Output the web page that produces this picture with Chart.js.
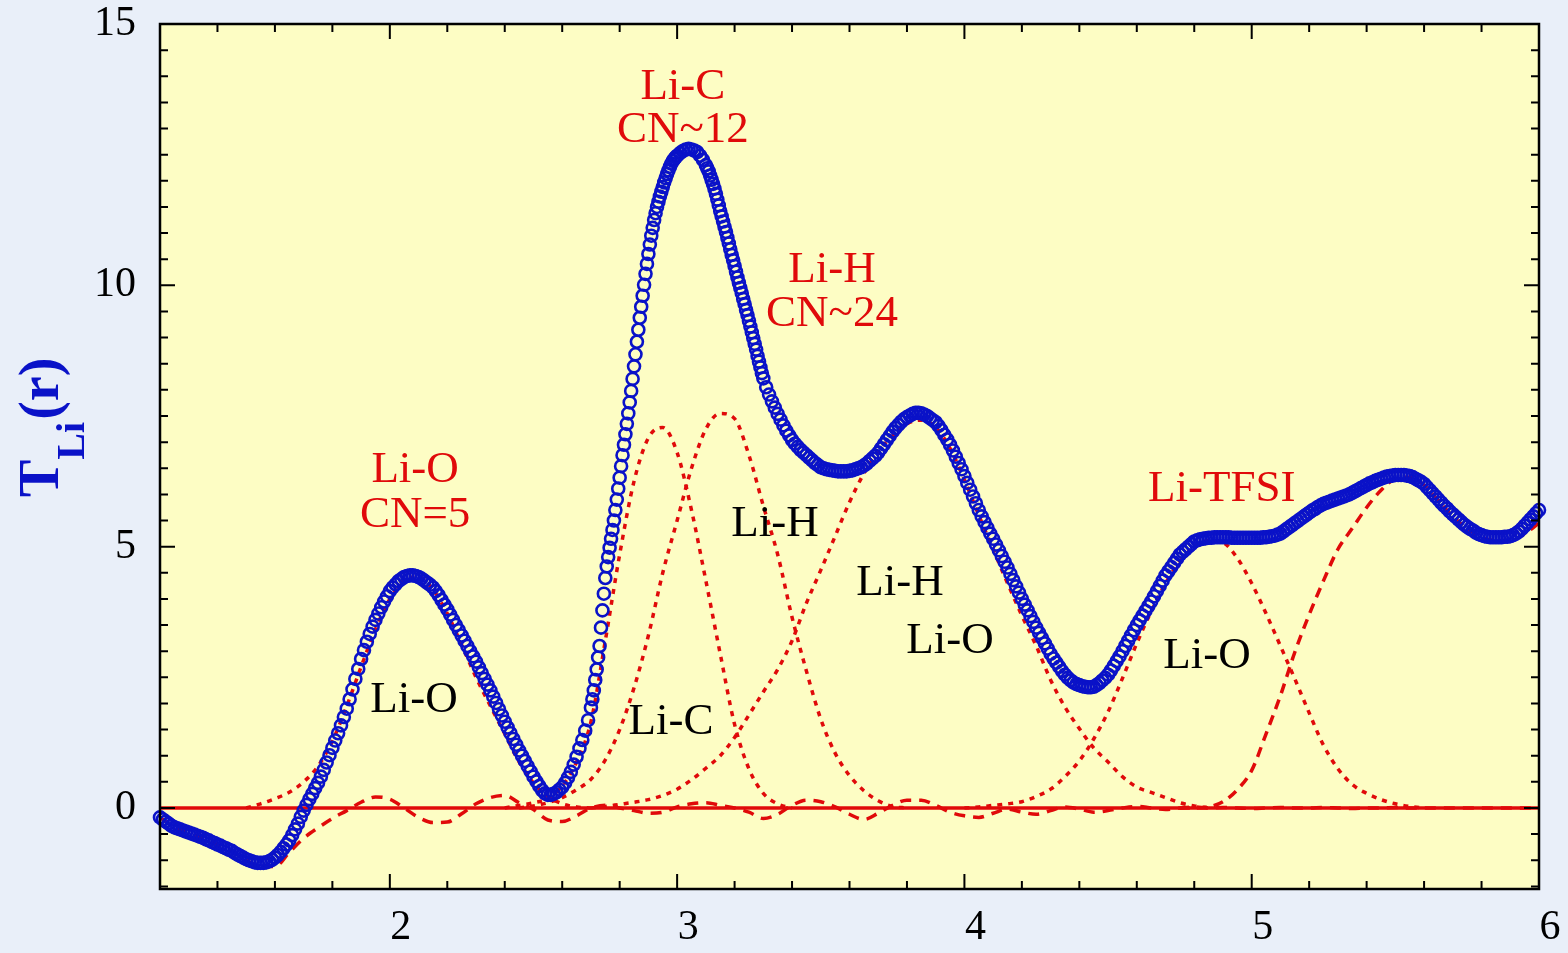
<!DOCTYPE html>
<html>
<head>
  <meta charset="UTF-8">
  <title>T_Li(r)</title>
  <script src="https://cdn.jsdelivr.net/npm/chart.js"></script>
  <style>
    html, body {
      margin: 0;
      padding: 0;
      background: #e9eff9;
    }
    #wrap {
      width: 1568px;
      height: 953px;
    }
  </style>
</head>
<body>
  <div id="wrap"><canvas id="tliChart"></canvas></div>

  <script>
    // measured T_Li(r), r = 1.20 ... 6.00 in steps of 0.01
    const rStart = 1.20;
    const rStep = 0.01;
    const tMeasured = [
      -0.18,-0.22,-0.26,-0.30,-0.34,-0.37,-0.39,-0.41,-0.43,-0.45,
      -0.47,-0.49,-0.51,-0.53,-0.55,-0.57,-0.60,-0.62,-0.65,-0.67,
      -0.70,-0.72,-0.75,-0.77,-0.80,-0.82,-0.86,-0.89,-0.92,-0.95,
      -0.98,-1.00,-1.02,-1.04,-1.05,-1.05,-1.05,-1.04,-1.02,-0.99,
      -0.95,-0.90,-0.84,-0.77,-0.70,-0.62,-0.52,-0.41,-0.30,-0.17,
      -0.05,0.06,0.17,0.27,0.38,0.48,0.60,0.73,0.87,1.01,
      1.15,1.29,1.43,1.58,1.74,1.90,2.08,2.27,2.47,2.66,
      2.85,3.02,3.18,3.33,3.47,3.60,3.72,3.84,3.95,4.05,
      4.15,4.22,4.28,4.34,4.38,4.42,4.44,4.45,4.45,4.44,
      4.42,4.39,4.35,4.31,4.27,4.22,4.15,4.07,3.98,3.89,
      3.80,3.70,3.60,3.50,3.40,3.30,3.20,3.10,3.00,2.90,
      2.80,2.69,2.58,2.47,2.36,2.25,2.13,2.01,1.89,1.77,
      1.65,1.54,1.43,1.32,1.21,1.10,1.00,0.90,0.80,0.70,
      0.60,0.51,0.42,0.34,0.28,0.25,0.25,0.27,0.30,0.35,
      0.40,0.48,0.58,0.69,0.83,0.98,1.14,1.30,1.48,1.68,
      1.92,2.25,2.65,3.10,3.78,4.40,4.80,5.15,5.50,5.90,
      6.32,6.75,7.15,7.55,7.98,8.45,8.92,9.38,9.80,10.22,
      10.60,10.95,11.25,11.50,11.70,11.88,12.05,12.20,12.33,12.42,
      12.48,12.53,12.57,12.60,12.61,12.60,12.58,12.55,12.48,12.40,
      12.30,12.18,12.02,11.85,11.64,11.42,11.22,11.02,10.80,10.58,
      10.37,10.15,9.95,9.74,9.53,9.32,9.10,8.88,8.65,8.43,
      8.22,8.05,7.91,7.78,7.66,7.54,7.43,7.32,7.22,7.13,
      7.04,6.97,6.91,6.85,6.80,6.75,6.70,6.65,6.60,6.56,
      6.52,6.50,6.48,6.47,6.46,6.45,6.44,6.44,6.44,6.44,
      6.45,6.46,6.48,6.50,6.52,6.55,6.59,6.64,6.69,6.74,
      6.80,6.88,6.96,7.04,7.12,7.20,7.27,7.33,7.39,7.44,
      7.48,7.51,7.54,7.56,7.56,7.55,7.53,7.50,7.46,7.42,
      7.38,7.31,7.23,7.14,7.05,6.95,6.84,6.72,6.60,6.48,
      6.35,6.22,6.09,5.96,5.83,5.70,5.58,5.47,5.36,5.25,
      5.15,5.04,4.93,4.82,4.71,4.60,4.48,4.36,4.24,4.12,
      4.00,3.89,3.78,3.67,3.56,3.45,3.35,3.25,3.15,3.05,
      2.95,2.86,2.78,2.70,2.62,2.55,2.49,2.44,2.40,2.37,
      2.35,2.33,2.32,2.31,2.31,2.32,2.35,2.39,2.44,2.49,
      2.55,2.63,2.72,2.81,2.90,3.00,3.10,3.20,3.30,3.40,
      3.50,3.59,3.68,3.77,3.86,3.95,4.05,4.15,4.25,4.35,
      4.45,4.53,4.61,4.69,4.77,4.85,4.90,4.95,5.00,5.05,
      5.10,5.12,5.14,5.15,5.16,5.17,5.17,5.18,5.18,5.18,
      5.18,5.18,5.18,5.17,5.17,5.17,5.17,5.17,5.17,5.17,
      5.17,5.17,5.17,5.17,5.18,5.18,5.19,5.20,5.21,5.23,
      5.25,5.29,5.33,5.37,5.41,5.45,5.49,5.53,5.57,5.61,
      5.65,5.69,5.72,5.76,5.79,5.82,5.84,5.86,5.88,5.90,
      5.92,5.94,5.96,5.98,6.00,6.03,6.06,6.09,6.12,6.15,
      6.18,6.21,6.23,6.26,6.28,6.30,6.32,6.34,6.35,6.36,
      6.37,6.37,6.37,6.37,6.36,6.35,6.33,6.30,6.27,6.24,
      6.20,6.14,6.08,6.02,5.96,5.90,5.84,5.78,5.73,5.67,
      5.62,5.57,5.52,5.47,5.42,5.38,5.34,5.31,5.27,5.24,
      5.22,5.20,5.19,5.18,5.18,5.18,5.18,5.18,5.19,5.19,
      5.20,5.22,5.25,5.29,5.34,5.40,5.46,5.52,5.58,5.64,
      5.70
    ];

    // extra measured points on the two steep flanks of the Li-C peak
    const extraR = [
      2.705,2.715,2.725,2.735,2.745,2.755,2.765,2.775,2.785,2.795,
      2.805,2.815,2.825,2.835,2.845,2.855,2.865,2.875,2.885,2.895,
      2.905,2.915,2.925,2.935,2.945,2.955,2.965,2.975,2.985,2.995,
      3.105,3.115,3.125,3.135,3.145,3.155,3.165,3.175,3.185,3.195,
      3.205,3.215,3.225,3.235,3.245,3.255,3.265,3.275,3.285,3.295
    ];
    const extraT = [
      2.08,2.45,2.88,3.45,4.10,4.62,4.98,5.32,5.70,6.11,
      6.54,6.95,7.35,7.76,8.21,8.68,9.15,9.59,10.01,10.41,
      10.78,11.10,11.38,11.60,11.79,11.97,12.13,12.27,12.38,12.45,
      12.24,12.10,11.94,11.75,11.53,11.32,11.12,10.91,10.69,10.48,
      10.26,10.05,9.85,9.64,9.43,9.21,8.99,8.77,8.54,8.32
    ];

    // fitted components, sampled every 0.05
    const fitStep = 0.05;
    const liO1Start = 1.50;
    const liO1 = [0.00,0.08,0.18,0.30,0.50,0.80,1.28,1.95,2.70,3.42,4.00,4.36,4.42,4.18,3.72,3.12,2.50,1.95,1.42,0.88,0.48,0.22,0.08,0.02,0.00];
    const liCStart = 2.40;
    const liC = [0.00,0.05,0.10,0.18,0.42,0.88,1.65,3.20,4.85,6.25,7.08,7.28,6.80,5.70,4.35,2.95,1.60,0.75,0.28,0.08,0.00];
    const liH1Start = 2.45;
    const liH1 = [0.00,0.04,0.10,0.20,0.35,0.55,0.92,1.50,2.30,3.30,4.50,5.50,6.50,7.25,7.55,7.45,6.75,5.78,4.85,3.65,2.62,1.70,1.05,0.62,0.33,0.14,0.03,0.00];
    const liH2Start = 2.70;
    const liH2 = [0.00,0.03,0.07,0.11,0.16,0.24,0.36,0.54,0.76,1.00,1.35,1.78,2.22,2.65,3.20,3.92,4.55,5.20,5.85,6.40,6.82,7.12,7.35,7.42,7.28,6.88,6.28,5.60,4.95,4.30,3.68,3.10,2.45,1.93,1.52,1.15,0.88,0.60,0.40,0.30,0.20,0.10,0.04,0.00];
    const liO2Start = 4.00;
    const liO2 = [0.00,0.02,0.05,0.08,0.12,0.22,0.36,0.60,0.90,1.32,1.84,2.48,3.15,3.76,4.30,4.72,5.00,5.12,5.08,4.78,4.30,3.72,3.10,2.47,1.82,1.20,0.75,0.45,0.28,0.16,0.08,0.03,0.00];
    const liTfsiStart = 4.75;
    const liTfsi = [0.00,0.00,0.02,0.12,0.35,0.72,1.42,2.15,2.98,3.70,4.35,4.95,5.35,5.75,6.08,6.30,6.33,6.18,5.88,5.58,5.35,5.18,5.12,5.12,5.25,5.45];
    const residStart = 1.20;
    const resid = [
      -0.18,-0.37,-0.47,-0.57,-0.70,-0.83,-1.00,-1.12,-1.12,-0.85,-0.58,-0.38,-0.20,-0.05,0.11,0.21,
      0.17,0.00,-0.18,-0.28,-0.27,-0.11,0.08,0.20,0.24,0.10,-0.03,-0.23,-0.26,-0.15,0.00,0.05,0.00,-0.05,-0.10,-0.08,
      0.02,0.08,0.10,0.05,0.00,-0.08,-0.20,-0.12,0.05,0.15,0.12,0.02,-0.12,-0.22,-0.10,0.05,0.15,0.15,0.05,-0.08,
      -0.15,-0.18,-0.10,-0.02,-0.08,-0.12,-0.05,0.02,-0.02,-0.08,-0.05,0.00,0.03,0.00,-0.03,0.00,0.02,0.00,0.01,0.00,
      -0.01,0.00,0.01,0.00,0.00,0.01,0.00,-0.01,0.00,0.00,0.01,0.00,0.00,0.00,0.00,0.00,0.00,0.00,0.00,0.00,0.00
    ];

    // text labels placed in data coordinates
    const noteText  = ['Li-O', 'CN=5', 'Li-C', 'CN~12', 'Li-H', 'CN~24', 'Li-TFSI', 'Li-O', 'Li-C', 'Li-H', 'Li-H', 'Li-O', 'Li-O'];
    const noteR     = [2.088, 2.088, 3.02, 3.02, 3.539, 3.539, 4.896, 2.084, 2.979, 3.341, 3.776, 3.950, 4.844];
    const noteT     = [6.47, 5.61, 13.79, 12.97, 10.29, 9.45, 6.10, 2.07, 1.65, 5.43, 4.30, 3.19, 2.91];
    const noteIsRed = [true, true, true, true, true, true, true, false, false, false, false, false, false];

    const BLUE = '#0a12c8';
    const RED = '#e00a0a';
    const SERIF = '"Liberation Serif", "Times New Roman", serif';

    function toPoints(start, step, vals) {
      return vals.map((v, i) => ({ x: +(start + i * step).toFixed(3), y: v }));
    }

    const measuredPts = toPoints(rStart, rStep, tMeasured)
      .concat(extraR.map((r, i) => ({ x: r, y: extraT[i] })));

    function dotted(label, start, vals) {
      return {
        label,
        data: toPoints(start, fitStep, vals),
        showLine: true,
        borderColor: RED,
        borderWidth: 3.5,
        borderDash: [5, 6],
        pointRadius: 0,
        cubicInterpolationMode: 'monotone'
      };
    }

    const bgPlugin = {
      id: 'bg',
      beforeDraw(chart) {
        const { ctx, chartArea: a } = chart;
        ctx.save();
        ctx.fillStyle = '#e9eff9';
        ctx.fillRect(0, 0, chart.width, chart.height);
        ctx.fillStyle = '#fdfdc4';
        ctx.fillRect(a.left, a.top, a.right - a.left, a.bottom - a.top);
        ctx.restore();
      }
    };

    // frame with inward ticks on all four sides, notes, and y title
    const framePlugin = {
      id: 'frame',
      afterDatasetsDraw(chart) {
        const { ctx, scales: { x, y } } = chart;
        ctx.save();
        ctx.textAlign = 'center';
        ctx.textBaseline = 'middle';
        ctx.font = '45px ' + SERIF;
        noteText.forEach((txt, i) => {
          ctx.fillStyle = noteIsRed[i] ? RED : '#000';
          ctx.fillText(txt, x.getPixelForValue(noteR[i]), y.getPixelForValue(noteT[i]));
        });
        ctx.restore();
      },
      afterDraw(chart) {
        const { ctx, chartArea: a, scales: { x, y } } = chart;
        ctx.save();
        ctx.strokeStyle = '#000';
        ctx.lineWidth = 2.5;
        ctx.strokeRect(a.left, a.top, a.right - a.left, a.bottom - a.top);

        ctx.lineWidth = 2;
        ctx.beginPath();
        for (let k = 0; k <= 24; k++) {
          const v = 1.2 + k * 0.2;
          const major = Math.abs(v - Math.round(v)) < 1e-6;
          const len = major ? 15 : 8;
          const px = x.getPixelForValue(v);
          ctx.moveTo(px, a.bottom); ctx.lineTo(px, a.bottom - len);
          ctx.moveTo(px, a.top); ctx.lineTo(px, a.top + len);
        }
        for (let k = 0; k <= 33; k++) {
          const v = -1.5 + k * 0.5;
          const major = Math.abs(v / 5 - Math.round(v / 5)) < 1e-6;
          const len = major ? 15 : 8;
          const py = y.getPixelForValue(v);
          ctx.moveTo(a.left, py); ctx.lineTo(a.left + len, py);
          ctx.moveTo(a.right, py); ctx.lineTo(a.right - len, py);
        }
        ctx.stroke();

        // y axis title: T_Li(r), rotated
        ctx.translate(58, 497);
        ctx.rotate(-Math.PI / 2);
        ctx.fillStyle = BLUE;
        ctx.textAlign = 'left';
        ctx.textBaseline = 'alphabetic';
        ctx.font = 'bold 56px ' + SERIF;
        ctx.fillText('T', 0, 0);
        let w = ctx.measureText('T').width;
        ctx.font = 'bold 40px ' + SERIF;
        ctx.fillText('Li', w, 26);
        w += ctx.measureText('Li').width + 2;
        ctx.font = 'bold 56px ' + SERIF;
        ctx.fillText('(r)', w, 0);
        ctx.restore();
      }
    };

    const ctx = document.getElementById('tliChart').getContext('2d');
    new Chart(ctx, {
      type: 'scatter',
      data: {
        datasets: [
          {
            label: 'T_Li(r)',
            data: measuredPts,
            pointRadius: 6,
            pointBorderWidth: 2.6,
            pointBorderColor: BLUE,
            pointBackgroundColor: 'rgba(0,0,0,0)',
            clip: false
          },
          {
            label: 'zero',
            data: [{ x: 1.2, y: 0 }, { x: 6, y: 0 }],
            showLine: true,
            borderColor: RED,
            borderWidth: 3.5,
            pointRadius: 0
          },
          dotted('Li-O', liO1Start, liO1),
          dotted('Li-C', liCStart, liC),
          dotted('Li-H', liH1Start, liH1),
          dotted('Li-H', liH2Start, liH2),
          dotted('Li-O', liO2Start, liO2),
          {
            label: 'Li-TFSI',
            data: toPoints(liTfsiStart, fitStep, liTfsi),
            showLine: true,
            borderColor: RED,
            borderWidth: 3.5,
            borderDash: [10, 7],
            pointRadius: 0,
            cubicInterpolationMode: 'monotone'
          },
          {
            label: 'residual',
            data: toPoints(residStart, fitStep, resid),
            showLine: true,
            borderColor: RED,
            borderWidth: 3.5,
            borderDash: [11, 8],
            pointRadius: 0,
            cubicInterpolationMode: 'monotone'
          }
        ]
      },
      options: {
        responsive: true,
        maintainAspectRatio: false,
        animation: false,
        layout: { padding: { top: 24, right: 29, left: 0, bottom: 0 } },
        plugins: {
          legend: { display: false },
          tooltip: { enabled: false }
        },
        scales: {
          x: {
            type: 'linear',
            min: 1.2,
            max: 6,
            afterFit: s => {
              s.height = 64;
              s.paddingLeft = 0;
              s.paddingRight = 0;
            },
            grid: { display: false, drawTicks: false },
            border: { display: false },
            ticks: {
              stepSize: 1,
              padding: 14,
              labelOffset: 11,
              autoSkip: false,
              maxRotation: 0,
              color: '#000',
              font: { family: SERIF, size: 42 },
              callback: v => Number.isInteger(v) ? String(v) : ''
            }
          },
          y: {
            type: 'linear',
            min: -1.55,
            max: 15,
            afterFit: s => {
              s.width = 160;
              s.paddingTop = 0;
              s.paddingBottom = 0;
            },
            grid: { display: false, drawTicks: false },
            border: { display: false },
            ticks: {
              stepSize: 5,
              padding: 24,
              autoSkip: false,
              color: '#000',
              font: { family: SERIF, size: 42 },
              callback: v => Number.isInteger(v) && v % 5 === 0 ? String(v) : ''
            }
          }
        }
      },
      plugins: [bgPlugin, framePlugin]
    });
  </script>
</body>
</html>
